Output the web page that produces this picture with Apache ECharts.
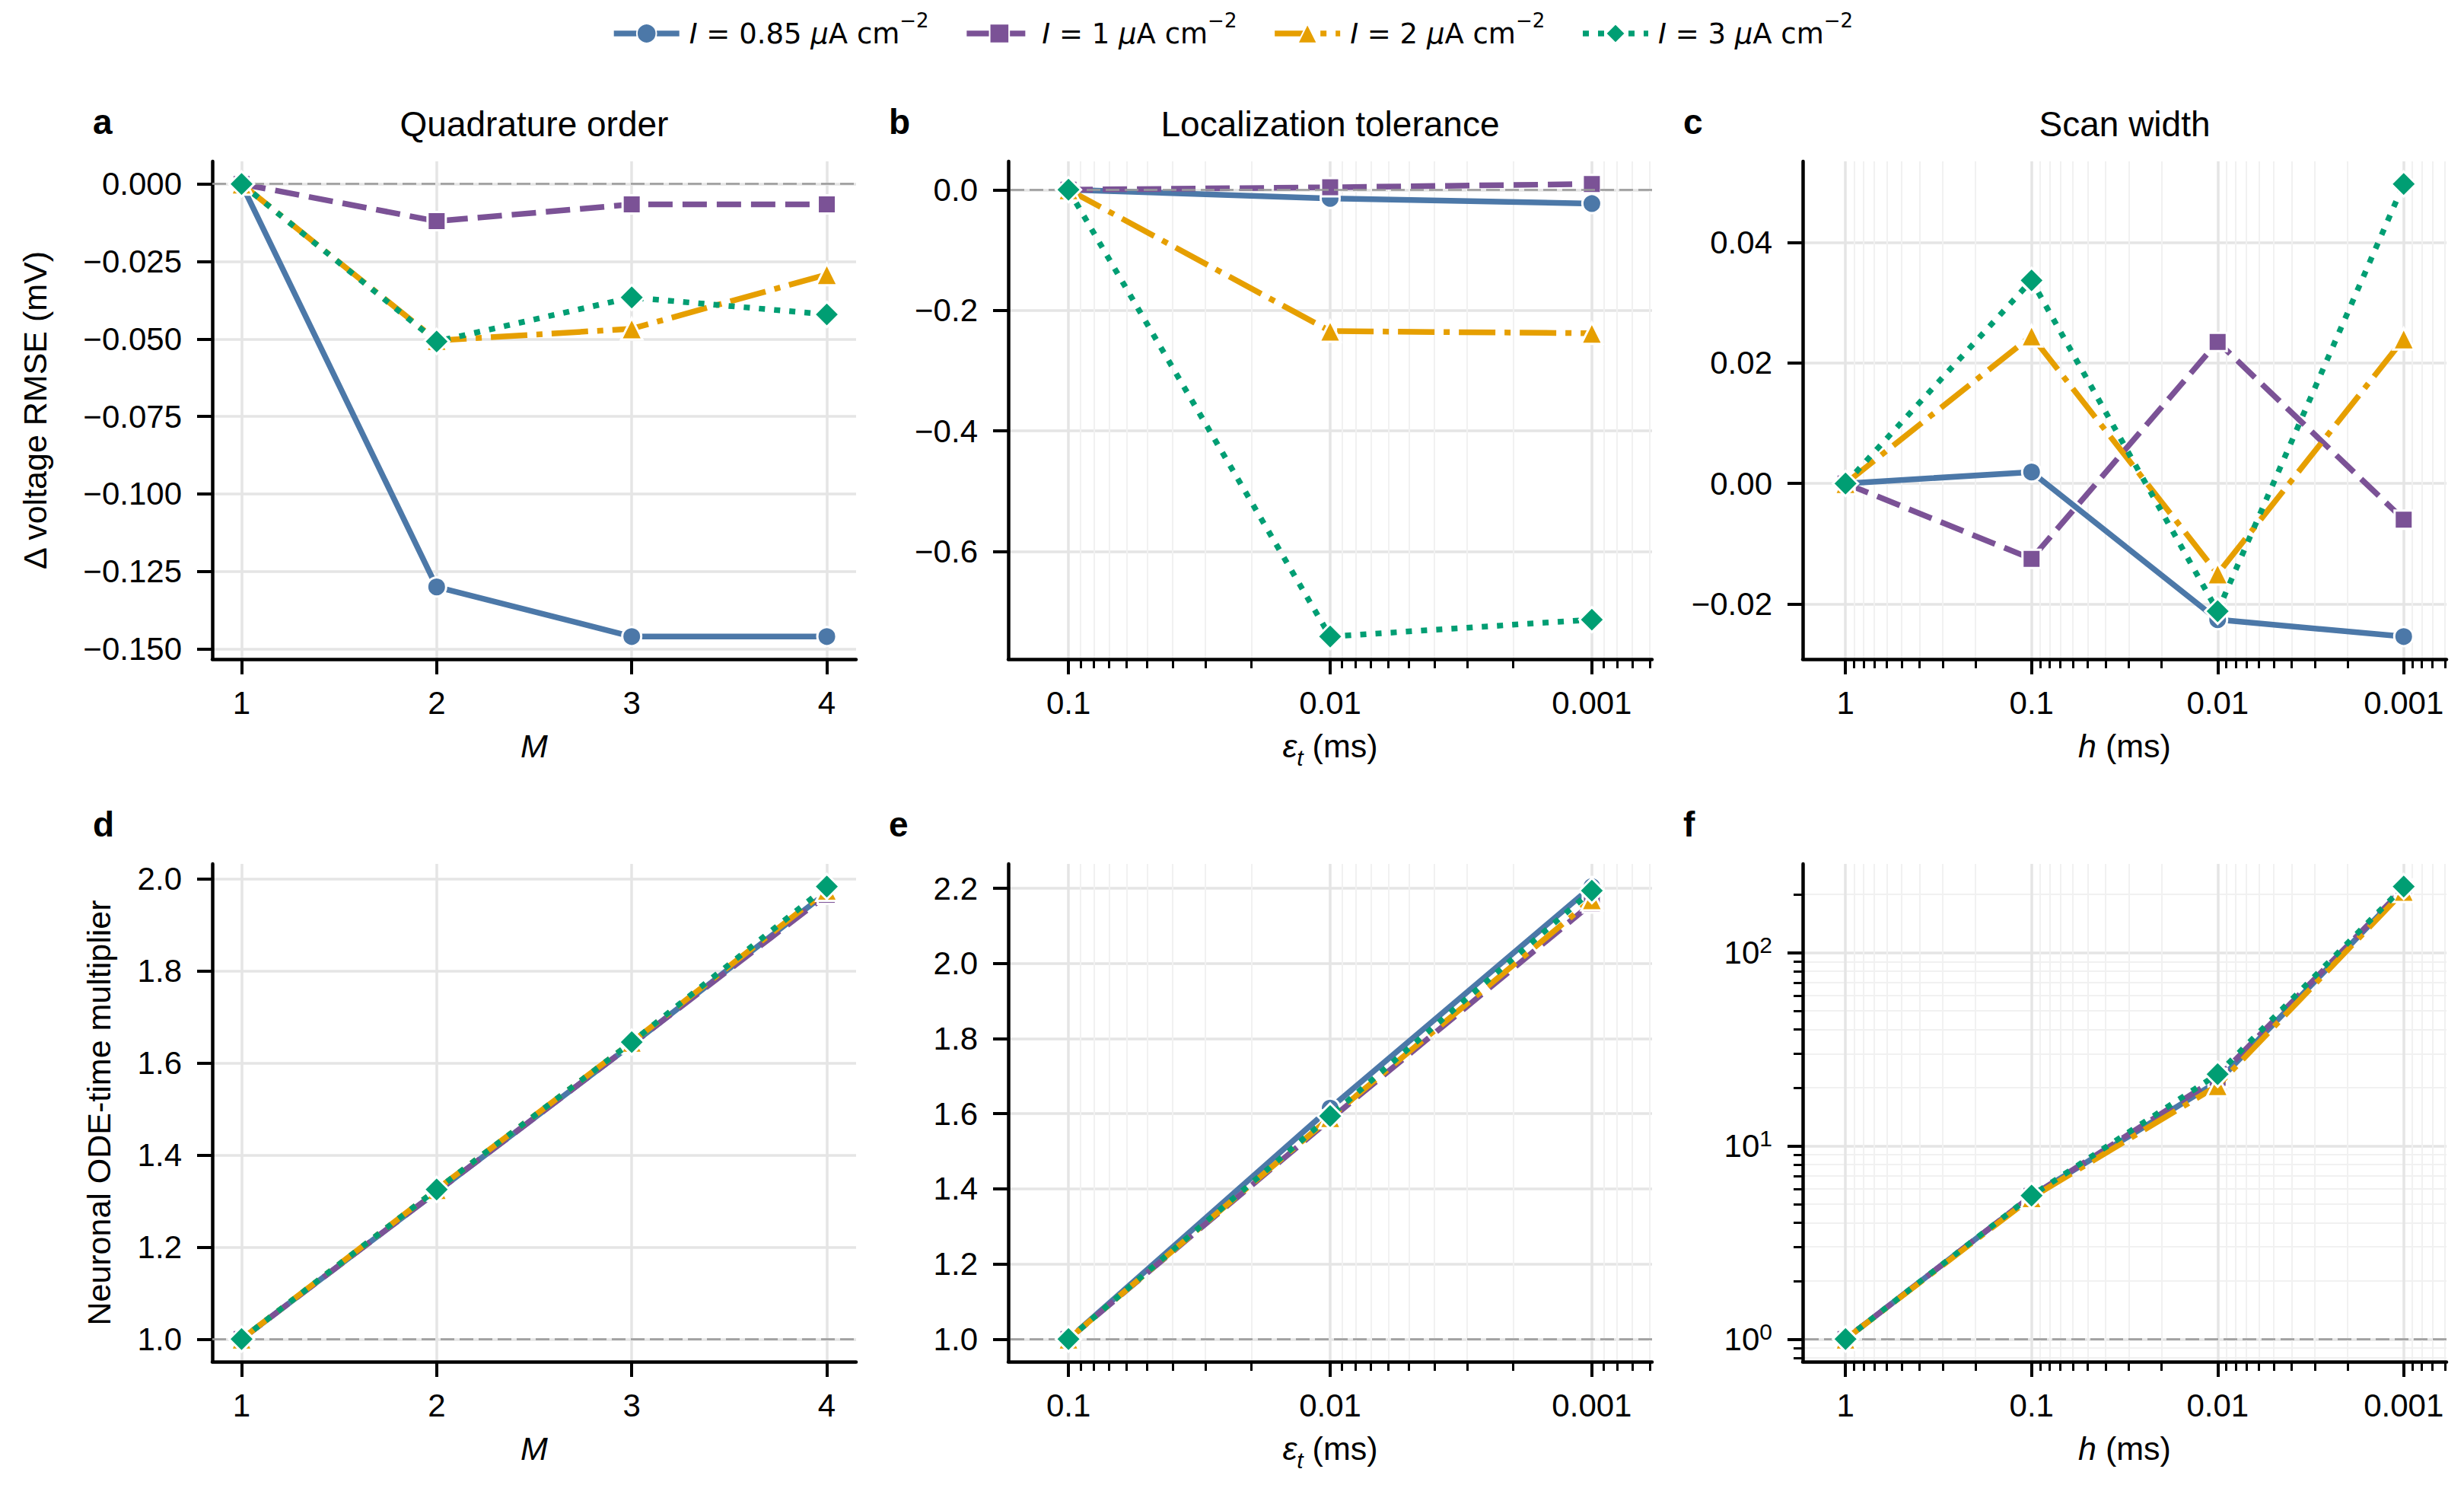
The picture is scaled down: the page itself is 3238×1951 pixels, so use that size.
<!DOCTYPE html>
<html>
<head>
<meta charset="utf-8">
<title>Solver settings sensitivity</title>
<script src="https://cdn.jsdelivr.net/npm/echarts@6/dist/echarts.min.js"></script>
<style>
  html, body { margin: 0; padding: 0; background: #fff; }
  #chart { width: 3238px; height: 1951px; }
</style>
</head>
<body>
<div id="chart"></div>
<script>
// ---- data ----
var currents = [0.85, 1, 2, 3];          // injected current, uA cm^-2
var mVals = [1, 2, 3, 4];                // quadrature order M
var epsVals = [0.1, 0.01, 0.001];        // localization tolerance (ms)
var hVals = [1, 0.1, 0.01, 0.001];       // scan width (ms)

// a: delta voltage RMSE (mV) vs M
var rmseM_085 = [0, -0.130, -0.146, -0.146];
var rmseM_1   = [0, -0.012, -0.0066, -0.0066];
var rmseM_2   = [0, -0.0505, -0.0467, -0.0292];
var rmseM_3   = [0, -0.0508, -0.0366, -0.0421];

// b: delta voltage RMSE (mV) vs eps_t
var rmseEps_085 = [0, -0.0145, -0.023];
var rmseEps_1   = [0, 0.004, 0.0095];
var rmseEps_2   = [0, -0.2345, -0.238];
var rmseEps_3   = [0, -0.741, -0.713];

// c: delta voltage RMSE (mV) vs h
var rmseH_085 = [0, 0.0019, -0.0226, -0.0254];
var rmseH_1   = [0, -0.0125, 0.0235, -0.006];
var rmseH_2   = [0, 0.0245, -0.015, 0.024];
var rmseH_3   = [0, 0.0337, -0.0212, 0.0497];

// d: ODE-time multiplier vs M
var costM_085 = [1, 1.32, 1.64, 1.97];
var costM_1   = [1, 1.32, 1.64, 1.965];
var costM_2   = [1, 1.325, 1.645, 1.975];
var costM_3   = [1, 1.325, 1.645, 1.983];

// e: ODE-time multiplier vs eps_t
var costEps_085 = [1, 1.615, 2.205];
var costEps_1   = [1, 1.585, 2.16];
var costEps_2   = [1, 1.59, 2.17];
var costEps_3   = [1, 1.594, 2.194];

// f: ODE-time multiplier vs h
var costH_085 = [1, 5.5, 21.5, 212];
var costH_1   = [1, 5.5, 22.5, 215];
var costH_2   = [1, 5.4, 20.5, 208];
var costH_3   = [1, 5.53, 23.5, 220];

// tick labels
var yTicksA = [0, -0.025, -0.05, -0.075, -0.1, -0.125, -0.15];
var yTicksB = [0, -0.2, -0.4, -0.6];
var yTicksC = [-0.02, 0, 0.02, 0.04];
var yTicksD = [1, 1.2, 1.4, 1.6, 1.8, 2.0];
var yTicksE = [1, 1.2, 1.4, 1.6, 1.8, 2.0, 2.2];
var yTicksF = [1, 10, 100];

(function () {
    var chart = echarts.init(document.getElementById('chart'), null, { renderer: 'svg' });

    var FONT = '"Liberation Sans", Arial, sans-serif';
    var LFONT = '"DejaVu Sans", sans-serif';
    var colors = ['#4C78A8', '#7B5296', '#E69F00', '#009E73'];
    var symbols = ['circle', 'rect', 'triangle', 'diamond'];
    var symbolSizes = [25, 24, 28, 33];
    var dashes = ['solid', [32, 13], [48, 12, 8, 12], [8, 12]];
    var names = currents.map(function (c) { return 'I = ' + c + ' \u03bcA cm\u22122'; });

    var colLeft = [279, 1325, 2369];
    var colWidth = 846;
    var rowTop = [212, 1135];
    var rowHeight = 654;

    var panels = [
        { letter: 'a', title: 'Quadrature order', row: 0, col: 0, xs: mVals, xLog: false,
          ys: [rmseM_085, rmseM_1, rmseM_2, rmseM_3], yTicks: yTicksA, yDec: 3, ref: 0,
          xName: '{it|M}', yName: '\u0394 voltage RMSE (mV)', yNameGap: 208 },
        { letter: 'b', title: 'Localization tolerance', row: 0, col: 1, xs: epsVals, xLog: true,
          ys: [rmseEps_085, rmseEps_1, rmseEps_2, rmseEps_3], yTicks: yTicksB, yDec: 1, ref: 0,
          xName: '{it|\u03b5}{sub|t} (ms)' },
        { letter: 'c', title: 'Scan width', row: 0, col: 2, xs: hVals, xLog: true,
          ys: [rmseH_085, rmseH_1, rmseH_2, rmseH_3], yTicks: yTicksC, yDec: 2, ref: null,
          xName: '{it|h} (ms)' },
        { letter: 'd', row: 1, col: 0, xs: mVals, xLog: false,
          ys: [costM_085, costM_1, costM_2, costM_3], yTicks: yTicksD, yDec: 1, ref: 1,
          xName: '{it|M}', yName: 'Neuronal ODE-time multiplier', yNameGap: 124 },
        { letter: 'e', row: 1, col: 1, xs: epsVals, xLog: true,
          ys: [costEps_085, costEps_1, costEps_2, costEps_3], yTicks: yTicksE, yDec: 1, ref: 1,
          xName: '{it|\u03b5}{sub|t} (ms)' },
        { letter: 'f', row: 1, col: 2, xs: hVals, xLog: true, yLog: true,
          ys: [costH_085, costH_1, costH_2, costH_3], yTicks: yTicksF, ref: 1,
          xName: '{it|h} (ms)' }
    ];

    function ident(v) { return v; }
    function padRange(vals, frac) {
        var lo = Math.min.apply(null, vals), hi = Math.max.apply(null, vals);
        var r = hi - lo;
        return [lo - frac * r, hi + frac * r];
    }
    function logMinors(lo, hi) {
        var out = [];
        for (var k = Math.floor(lo) - 1; k <= Math.ceil(hi); k++) {
            for (var d = 2; d <= 9; d++) {
                var v = k + Math.log10(d);
                if (v > lo && v < hi) out.push(v);
            }
        }
        return out;
    }
    function fmtPow(v) { return String(+Math.pow(10, v).toPrecision(2)); }
    function fmtFixed(dec) {
        return function (v) { return v.toFixed(dec).replace('-', '\u2212'); };
    }

    var spine = { show: true, onZero: false, lineStyle: { color: '#000', width: 4.5 } };
    var majorGrid = { show: true, lineStyle: { color: '#e5e5e5', width: 3.5 } };
    var minorGrid = { show: true, lineStyle: { color: '#f1f1f1', width: 2 } };

    var grids = [], xAxes = [], yAxes = [], series = [], graphics = [];

    panels.forEach(function (p, i) {
        var left = colLeft[p.col], top = rowTop[p.row];
        grids.push({ left: left, top: top, width: colWidth, height: rowHeight,
                     containLabel: false, outerBoundsMode: 'none' });

        var tx = p.xLog ? Math.log10 : ident;
        var ty = p.yLog ? Math.log10 : ident;
        var lx = p.xs.map(tx);
        var xl = p.xLog ? [Math.min.apply(null, lx) - 0.23, Math.max.apply(null, lx) + 0.23]
                        : padRange(lx, 0.05);
        var yv = [];
        p.ys.forEach(function (arr) { arr.forEach(function (v) { yv.push(ty(v)); }); });
        var yl = padRange(yv, 0.05);

        var xTickVals = lx;
        var yTickVals = p.yTicks.map(ty);

        var xi = xAxes.length;
        xAxes.push({
            type: 'value', gridIndex: i, position: 'bottom',
            min: xl[0], max: xl[1], inverse: !!p.xLog,
            axisLine: spine,
            axisTick: { show: true, customValues: xTickVals, length: 20,
                        lineStyle: { color: '#000', width: 4 } },
            axisLabel: { show: true, customValues: xTickVals, margin: 36,
                         formatter: p.xLog ? fmtPow : function (v) { return String(v); },
                         color: '#000', fontSize: 42, fontFamily: FONT },
            splitLine: majorGrid,
            name: p.xName, nameLocation: 'middle', nameGap: 84,
            nameTextStyle: { color: '#000', fontSize: 43, fontFamily: FONT, lineHeight: 60,
                rich: {
                    it: { fontStyle: 'italic', fontSize: 43, fontFamily: FONT, lineHeight: 60 },
                    sub: { fontStyle: 'italic', fontSize: 30, fontFamily: FONT, lineHeight: 34,
                           verticalAlign: 'bottom' }
                } }
        });
        if (p.xLog) {
            xAxes.push({
                type: 'value', gridIndex: i, position: 'bottom',
                min: xl[0], max: xl[1], inverse: true,
                axisLine: { show: false, onZero: false },
                axisTick: { show: true, customValues: logMinors(xl[0], xl[1]), length: 12,
                            lineStyle: { color: '#000', width: 3 } },
                axisLabel: { show: false },
                splitLine: minorGrid
            });
        }

        var yi = yAxes.length;
        yAxes.push({
            type: 'value', gridIndex: i, position: 'left',
            min: yl[0], max: yl[1],
            axisLine: spine,
            axisTick: { show: true, customValues: yTickVals, length: 20,
                        lineStyle: { color: '#000', width: 4 } },
            axisLabel: { show: true, customValues: yTickVals, margin: 40,
                         formatter: p.yLog ? function (v) { return '10{sup|' + Math.round(v) + '}'; }
                                           : fmtFixed(p.yDec),
                         color: '#000', fontSize: 42, fontFamily: FONT, lineHeight: 50,
                         rich: { sup: { fontSize: 30, fontFamily: FONT, lineHeight: 26,
                                        verticalAlign: 'top', color: '#000' } } },
            splitLine: majorGrid,
            name: p.yName || '', nameLocation: 'middle', nameGap: p.yNameGap || 0,
            nameTextStyle: { color: '#000', fontSize: 43, fontFamily: FONT, lineHeight: 50 }
        });
        if (p.yLog) {
            yAxes.push({
                type: 'value', gridIndex: i, position: 'left',
                min: yl[0], max: yl[1],
                axisLine: { show: false, onZero: false },
                axisTick: { show: true, customValues: logMinors(yl[0], yl[1]), length: 12,
                            lineStyle: { color: '#000', width: 3 } },
                axisLabel: { show: false },
                splitLine: minorGrid
            });
        }

        if (p.ref !== null) {
            series.push({
                type: 'line', xAxisIndex: xi, yAxisIndex: yi, data: [], z: 1,
                markLine: { silent: true, symbol: 'none', animation: false,
                            label: { show: false },
                            lineStyle: { color: '#9a9a9a', width: 2.5, type: [18, 7] },
                            data: [{ yAxis: ty(p.ref) }] }
            });
        }

        p.ys.forEach(function (arr, k) {
            series.push({
                type: 'line', name: names[k], xAxisIndex: xi, yAxisIndex: yi, z: 3 + k,
                data: arr.map(function (v, j) { return [lx[j], ty(v)]; }),
                symbol: symbols[k], symbolSize: symbolSizes[k], showSymbol: true,
                lineStyle: { color: colors[k], width: 7.5, type: dashes[k], cap: 'butt' },
                itemStyle: { color: colors[k], borderColor: '#fff', borderWidth: 3 },
                emphasis: { disabled: true }
            });
        });

        graphics.push({
            type: 'text', x: left - 157, y: top - 52,
            style: { text: p.letter, fontSize: 46, fontWeight: 'bold', fontFamily: FONT,
                     fill: '#000', align: 'left', verticalAlign: 'middle' }
        });
        if (p.title) {
            graphics.push({
                type: 'text', x: left + colWidth / 2, y: top - 49,
                style: { text: p.title, fontSize: 46, fontFamily: FONT,
                         fill: '#000', align: 'center', verticalAlign: 'middle' }
            });
        }
    });

    var option = {
        animation: false,
        backgroundColor: '#fff',
        legend: {
            data: names, top: 14, left: 'center', padding: 0,
            itemWidth: 86, itemHeight: 32, itemGap: 46,
            lineStyle: { width: 7.5 },
            formatter: function (name) {
                var c = name.split(' ')[2];
                return '{it|I} = ' + c + ' {it|\u03bc}A cm{sup|\u22122}';
            },
            textStyle: {
                color: '#000', fontSize: 37, fontFamily: LFONT, lineHeight: 60,
                padding: [0, 0, 0, 8],
                rich: {
                    it: { fontStyle: 'italic', fontSize: 37, fontFamily: LFONT, lineHeight: 60 },
                    sup: { fontSize: 26, fontFamily: LFONT, lineHeight: 26, verticalAlign: 'top' }
                }
            }
        },
        grid: grids,
        xAxis: xAxes,
        yAxis: yAxes,
        series: series,
        graphic: graphics
    };

    chart.setOption(option);
    window.addEventListener('resize', function () {
        chart.resize();
    });
})();
</script>
</body>
</html>
